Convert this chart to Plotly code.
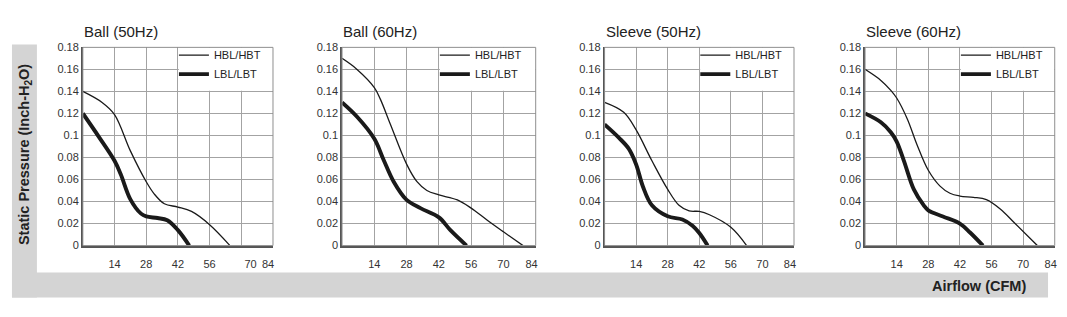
import plotly.graph_objects as go

W, H = 1067, 317

titles = ["Ball (50Hz)", "Ball (60Hz)", "Sleeve (50Hz)", "Sleeve (60Hz)"]
series_names = ["HBL/HBT", "LBL/LBT"]

ball50_hbl_x = [0, 8.5, 14, 21, 28, 31.5, 36, 42, 48, 56, 65]
ball50_hbl_y = [0.14, 0.13, 0.119, 0.086, 0.058, 0.047, 0.038, 0.035, 0.031, 0.019, 0]
ball50_lbl_x = [0, 7, 14, 16.7, 21, 25.7, 28, 33, 37.3, 42, 47]
ball50_lbl_y = [0.12, 0.099, 0.077, 0.065, 0.042, 0.029, 0.0265, 0.025, 0.023, 0.014, 0]

ball60_hbl_x = [0, 6.5, 14, 16.6, 21, 28, 32.5, 36.8, 42, 50, 56, 63, 70, 78.5]
ball60_hbl_y = [0.17, 0.16, 0.1435, 0.133, 0.11, 0.074, 0.058, 0.050, 0.046, 0.0415, 0.034, 0.023, 0.0125, 0]
ball60_lbl_x = [0, 6.5, 14, 18, 22.4, 28, 34, 42, 47, 54]
ball60_lbl_y = [0.13, 0.117, 0.097, 0.078, 0.058, 0.0415, 0.034, 0.0256, 0.014, 0]

sleeve50_hbl_x = [0, 8.5, 14, 21, 28, 33, 37.5, 42, 46.5, 56, 63]
sleeve50_hbl_y = [0.13, 0.121, 0.105, 0.077, 0.051, 0.0366, 0.0315, 0.031, 0.028, 0.0166, 0]
sleeve50_lbl_x = [0, 6.3, 10.7, 14, 17, 21, 28, 34.5, 39, 42, 45.7]
sleeve50_lbl_y = [0.11, 0.098, 0.088, 0.0737, 0.0537, 0.0366, 0.0266, 0.0237, 0.018, 0.0114, 0]

sleeve60_hbl_x = [0, 7, 11.4, 14, 18.7, 23, 28, 33.2, 37.6, 42, 48, 53.7, 60, 66, 76.3]
sleeve60_hbl_y = [0.16, 0.15, 0.141, 0.134, 0.115, 0.0916, 0.0684, 0.054, 0.0475, 0.045, 0.0438, 0.0417, 0.033, 0.021, 0]
sleeve60_lbl_x = [0, 7, 11.4, 14, 17.2, 21.6, 26, 28, 34.5, 42, 46.5, 52.2]
sleeve60_lbl_y = [0.12, 0.112, 0.103, 0.0945, 0.077, 0.051, 0.0365, 0.032, 0.0264, 0.02, 0.0119, 0]

x_tick_text = ["14", "28", "42", "56", "70", "84"]
x_tick_pos_first = [14, 28, 42, 56, 74.1, 81.8]
x_tick_pos_other = [14, 28, 42, 56, 70, 82.2]

data = [
    ((ball50_hbl_x, ball50_hbl_y), (ball50_lbl_x, ball50_lbl_y)),
    ((ball60_hbl_x, ball60_hbl_y), (ball60_lbl_x, ball60_lbl_y)),
    ((sleeve50_hbl_x, sleeve50_hbl_y), (sleeve50_lbl_x, sleeve50_lbl_y)),
    ((sleeve60_hbl_x, sleeve60_hbl_y), (sleeve60_lbl_x, sleeve60_lbl_y)),
]

# pixel layout of each panel
panel_left = [83, 342.7, 605.7, 866.7]
panel_right = [273.5, 536.7, 795.5, 1056.7]
top_px, bottom_px = 43, 249

FONT = "Liberation Sans, Arial, sans-serif"
GRID = "#a3a3a3"

fig = go.Figure()
layout = dict(
    width=W, height=H, autosize=False,
    margin=dict(l=0, r=0, t=0, b=0),
    paper_bgcolor="white", plot_bgcolor="white",
    font=dict(family=FONT, color="#333333", size=11),
    showlegend=True,
)
shapes = []
annotations = []

def px2x(p):
    return p / W

def px2y(p):
    return 1 - p / H

for i in range(4):
    n = "" if i == 0 else str(i + 1)
    xa, ya = "x" + n, "y" + n
    leg = "legend" if i == 0 else "legend" + str(i + 1)
    (hx, hy), (lx, ly) = data[i]
    fig.add_trace(go.Scatter(x=hx, y=hy, mode="lines", name=series_names[0],
                             line=dict(color="#1a1a1a", width=1.3, shape="spline", smoothing=1.0),
                             xaxis=xa, yaxis=ya, legend=leg, hoverinfo="skip"))
    fig.add_trace(go.Scatter(x=lx, y=ly, mode="lines", name=series_names[1],
                             line=dict(color="#1a1a1a", width=3.9, shape="spline", smoothing=1.0),
                             xaxis=xa, yaxis=ya, legend=leg, hoverinfo="skip"))
    tv = x_tick_pos_first if i == 0 else x_tick_pos_other
    layout["xaxis" + n] = dict(
        domain=[px2x(panel_left[i]), px2x(panel_right[i])],
        anchor=ya, range=[0, 84], fixedrange=True,
        tickmode="array", tickvals=tv, ticktext=x_tick_text,
        showgrid=False, zeroline=False, ticks="", ticklabelstandoff=7,
        showline=True, linecolor="#555555", linewidth=1.6,
        minor=dict(tickmode="linear", tick0=0, dtick=14, showgrid=True,
                   gridcolor=GRID, gridwidth=1, ticks=""),
        tickfont=dict(size=11, color="#333333"),
    )
    layout["yaxis" + n] = dict(
        domain=[px2y(bottom_px), px2y(top_px)],
        anchor=xa, range=[0, 0.18], fixedrange=True,
        tickmode="linear", tick0=0, dtick=0.02,
        showgrid=True, gridcolor=GRID, gridwidth=1, zeroline=False, ticks="",
        showline=True, linecolor="#555555", linewidth=1.6,
        tickfont=dict(size=11, color="#333333"),
    )
    # white legend box hiding the grid
    shapes.append(dict(type="rect", xref=xa, yref=ya, x0=42.4, x1=84, y0=0.1405, y1=0.18,
                       fillcolor="white", line=dict(width=0), layer="between"))
    # frame
    shapes.append(dict(type="rect", xref=xa + " domain", yref=ya + " domain",
                       x0=0, x1=1, y0=0, y1=1, line=dict(color="#8f8f8f", width=1),
                       fillcolor="rgba(0,0,0,0)", layer="above"))
    layout[leg] = dict(
        x=px2x(panel_left[i] + (panel_right[i] - panel_left[i]) * 0.5 - 4), y=px2y(top_px - 7),
        xanchor="left", yanchor="top", bgcolor="rgba(0,0,0,0)",
        font=dict(size=11, color="#222222", family=FONT), itemwidth=30,
        tracegroupgap=0, borderwidth=0,
    )
    annotations.append(dict(text=titles[i], xref="paper", yref="paper",
                            x=px2x(panel_left[i] - 1), y=px2y(27), xanchor="left", yanchor="middle",
                            showarrow=False, font=dict(size=15, color="#222222", family=FONT)))

# grey L-shaped background band
shapes.append(dict(type="rect", xref="paper", yref="paper", x0=px2x(12), x1=px2x(37),
                   y0=px2y(303), y1=px2y(40), fillcolor="#d4d4d4", line=dict(width=0), layer="below"))
shapes.append(dict(type="rect", xref="paper", yref="paper", x0=px2x(12), x1=px2x(1050),
                   y0=px2y(303), y1=px2y(277), fillcolor="#d4d4d4", line=dict(width=0), layer="below"))

annotations.append(dict(text="<b>Static Pressure (Inch-H<sub>2</sub>O)</b>", xref="paper", yref="paper",
                        x=px2x(25), y=px2y(154), xanchor="center", yanchor="middle", textangle=-90,
                        showarrow=False, font=dict(size=14.5, color="#222222", family=FONT)))
annotations.append(dict(text="<b>Airflow (CFM)</b>", xref="paper", yref="paper",
                        x=px2x(1030), y=px2y(291), xanchor="right", yanchor="middle",
                        showarrow=False, font=dict(size=14.5, color="#222222", family=FONT)))

layout["shapes"] = shapes
layout["annotations"] = annotations
fig.update_layout(**layout)
fig.write_html("out.html")
